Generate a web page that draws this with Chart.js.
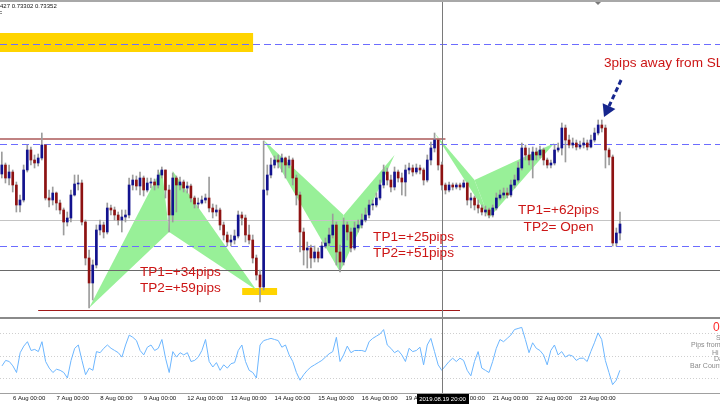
<!DOCTYPE html>
<html lang="en">
<head>
<meta charset="UTF-8">
<title>Harmonic patterns</title>
<script src="https://cdn.jsdelivr.net/npm/chart.js"></script>
<style>
  body { margin: 0; background: #fff; overflow: hidden; }
  #wrap { position: relative; width: 720px; height: 405px; background: #fff; }
  #main { position: absolute; left: 0; top: 0; }
  #sep { position: absolute; left: 0; top: 317px; width: 720px; height: 2px; background: #8a8a8a; }
  #osc { position: absolute; left: 0; top: 319px; }
</style>
</head>
<body>
<div id="wrap">
  <canvas id="main" width="720" height="317"></canvas>
  <div id="sep"></div>
  <canvas id="osc" width="720" height="86"></canvas>
</div>
<script>
// time axis: 2-hour bars, 12 per day
const dayLabels = ['6 Aug 00:00','7 Aug 00:00','8 Aug 00:00','9 Aug 00:00','12 Aug 00:00','13 Aug 00:00','14 Aug 00:00',
  '15 Aug 00:00','16 Aug 00:00','19 Aug 00:00','20 Aug 00:00','21 Aug 00:00','22 Aug 00:00','23 Aug 00:00'];
const firstDayBar = 3, barsPerDay = 12, slotCount = 198;
const crossBar = 121, crossLabel = '2019.08.19 20:00';

// prices in pips (x 0.0001)
const firstOpen = 7360;
const closes = [
  7364.5,7358,7361,7354.5,7344.5,7347,7362,7372,7367,7365.5,
  7368,7374.5,7348,7347,7350.5,7345.5,7342,7336,7338,7349.5,
  7355,7355.5,7336,7318,7305.5,7314.5,7332,7334.5,7331,7343,
  7342,7339.5,7337,7338.5,7339.5,7354.5,7357,7354,7358,7352,
  7355.5,7356,7354.5,7359.5,7362,7352,7339.5,7358,7354.5,7356,
  7353,7354,7348,7345,7345.5,7347,7348,7343,7341,7342,
  7334.5,7329.5,7326,7327,7329,7339.5,7338,7329.5,7327,7318,
  7309.5,7303.5,7352,7359.5,7364.5,7367,7366,7368,7364.5,7367,
  7358,7349.5,7331,7322,7323,7318,7321,7318,7324,7325.5,
  7329.5,7334.5,7321,7316,7334.5,7331,7323,7333,7334.5,7337,
  7339.5,7344.5,7344.5,7348,7354.5,7361,7357,7353.5,7361,7358,
  7356,7362,7363,7361,7363,7362,7357,7367,7373,7377,
  7364.5,7354.5,7352,7354.5,7353.5,7354.5,7353.5,7355.5,7347,7348,
  7344.5,7343,7341,7342,7339.5,7343,7348,7349.5,7350.5,7349.5,
  7354.5,7357,7363,7373,7369.5,7367,7371,7369.5,7372,7367,
  7364.5,7365.5,7372,7373,7383,7377,7374.5,7375.5,7373.5,7374.5,
  7375.5,7373.5,7377,7380.5,7384.5,7383,7372,7368.5,7325.5,7330.5,
  7335];
const highs = [
  7371,7365.5,7364.5,7362,7356,7349.5,7364.5,7374.5,7373.5,7369.5,
  7370,7380.5,7374.5,7352,7353.5,7351,7347,7343,7341,7352,
  7359.5,7359.5,7357,7337,7322,7317,7334.5,7337,7336,7345.5,
  7344.5,7343.5,7341,7342,7342,7358,7359.5,7359,7361,7359,
  7358,7358,7357.5,7362,7363.5,7361,7354.5,7360.5,7359,7358.5,
  7357,7356,7355,7349,7348,7349,7350,7358.5,7345,7344.5,
  7343,7336,7331,7329.5,7332,7341.5,7341,7339.5,7334.5,7329.5,
  7319.5,7312,7376.5,7364.5,7368,7369,7369.5,7370,7368.5,7369,
  7368,7359.5,7351,7333,7326,7324.5,7324,7323,7326,7328,
  7333,7340,7336,7324.5,7338,7336,7333,7336,7337,7340,
  7343,7347,7347,7350.5,7357,7364.5,7363,7359.5,7363.5,7362,
  7360.5,7364.5,7365.5,7364.5,7365,7364.5,7363,7369.5,7376,7380.5,
  7377,7366,7355.5,7356,7355.5,7355.5,7355.5,7357,7356,7350.5,
  7349,7347,7344.5,7344,7343,7344.5,7350.5,7352,7353,7353,
  7357,7359.5,7366,7375.5,7374.5,7373,7373.5,7373,7374,7373,
  7368,7367,7374.5,7375.5,7385.5,7384.5,7379.5,7378,7377,7376.5,
  7378,7377,7379.5,7383,7387,7387,7384.5,7373,7369.5,7333,
  7341];
const lows = [
  7358,7355.5,7354.5,7351,7341,7341,7346,7361,7364.5,7363,
  7364,7367,7347,7343.5,7344.5,7342,7340,7329.5,7334,7336,
  7349,7352,7334.5,7314.5,7293,7297,7313,7329.5,7328,7330,
  7339.5,7337,7334.5,7331,7336,7338,7352,7352,7349.5,7349,
  7351,7353,7352,7353,7358,7348,7331,7336,7341,7352,
  7351,7350.5,7346,7343,7343,7345,7345.5,7341,7338,7339,
  7332,7327,7324,7324,7325,7328,7334.5,7326,7325,7315.5,
  7307,7296,7302,7349.5,7358,7363,7363,7361,7358,7363,
  7354.5,7344.5,7321,7314.5,7313,7313,7316,7316,7321,7323,
  7324,7328,7314.5,7311,7314.5,7327,7321,7322,7331,7333,
  7336,7338,7342,7343.5,7347,7353,7354.5,7351,7352,7356,
  7349.5,7349,7360,7359,7360,7360,7354.5,7356,7364.5,7371,
  7362,7352,7350,7351,7352,7352.5,7352,7353,7344.5,7343,
  7342,7340.5,7339.5,7339,7338,7338.5,7342,7347,7348,7348,
  7348.5,7353,7356,7362,7367,7364.5,7358,7367,7368,7364.5,
  7363,7363,7364.5,7371,7369.5,7366,7373,7373,7372,7372.5,
  7373,7372,7373,7376,7379.5,7381,7363,7364.5,7324,7324,
  7327];

// oscillator sub-window
const oscValues = [
  41,46,45,41,35,53,59,63,55,56, 54,63,45,39,35,38,37,35,30,46,
  57,60,46,33,39,37,54,53,57,60, 57,55,53,49,60,69,67,64,55,51,
  58,60,55,57,65,48,35,54,49,53, 51,53,45,46,49,55,65,45,40,44,
  37,42,39,43,44,55,60,45,37,35, 30,60,64,65,66,65,64,58,60,51,
  45,35,28,33,37,40,42,44,46,49, 52,54,67,45,51,59,53,55,55,55,
  54,63,66,68,70,74,60,57,53,55, 51,45,57,54,55,58,42,60,66,54,
  42,37,41,45,48,45,48,46,37,32, 45,54,39,37,35,45,57,65,63,66,
  69,74,75,76,65,53,62,57,55,51, 42,55,60,51,54,49,51,50,46,48,
  48,45,54,62,71,65,46,35,24,28, 37];
const oscLevels = [30, 50, 70];

// levels and drawn objects (bar index, price in pips)
const blueLevels = [7425, 7375, 7324];
const greyLevel = 7337, crossPrice = 7312;
const brownTop = [-0.5, 122, 7377.5];
const brownBottom = [10, 126, 7292];
const yellowZones = [[-0.5, 69.1, 7430.5, 7421], [66.1, 75.7, 7303, 7299.5]];
const triangles = [
  [[24, 7293], [44, 7363], [46, 7331]],
  [[46, 7331], [47, 7361.5], [70, 7302]],
  [[72, 7377], [94, 7339.5], [93, 7311]],
  [[93, 7311], [94, 7339.5], [108, 7369.5]],
  [[119, 7380.5], [130, 7357], [134, 7338]],
  [[134, 7338], [130, 7357], [152, 7375.5]]
];
const notes = [
  ['TP1=+34pips', 38, 7311, 'left'], ['TP2=+59pips', 38, 7303, 'left'],
  ['TP1=+25pips', 102.1, 7328.5, 'left'], ['TP2=+51pips', 102.1, 7320.5, 'left'],
  ['TP1=+62pips', 153.1, 7342, 'center'], ['TP2= Open', 153.1, 7333.5, 'center'],
  ['3pips away from SL', 165.6, 7415.5, 'left']
];
const arrowFrom = [170.3, 7407], arrowTo = [165.6, 7388.5];

const labels = Array.from({length: slotCount}, (_, i) => {
  const k = (i - firstDayBar) / barsPerDay;
  return (i >= firstDayBar && Number.isInteger(k) && k < dayLabels.length) ? dayLabels[k] : '';
});
const opens = closes.map((c, i) => i === 0 ? firstOpen : closes[i - 1]);
const bodies = closes.map((c, i) => [opens[i] / 10000, c / 10000]);
const wicks = closes.map((c, i) => [Math.min(lows[i], opens[i], c) / 10000, Math.max(highs[i], opens[i], c) / 10000]);
const bodyColors = closes.map((c, i) => c >= opens[i] ? '#12128e' : '#8e1212');

function hline(ctx, x0, x1, y, color, width, dash) {
  ctx.save();
  ctx.strokeStyle = color;
  ctx.lineWidth = width;
  ctx.setLineDash(dash || []);
  const yy = width % 2 ? Math.round(y) + 0.5 : Math.round(y);
  ctx.beginPath();
  ctx.moveTo(x0, yy);
  ctx.lineTo(x1, yy);
  ctx.stroke();
  ctx.restore();
}

const mainDecor = {
  id: 'mainDecor',
  beforeDatasetsDraw(chart) {
    const {ctx, chartArea: a, scales: {x, y}} = chart;
    const px = i => x.getPixelForValue(i);
    const py = p => y.getPixelForValue(p / 10000);
    ctx.save();
    ctx.fillStyle = '#ffd400';
    yellowZones.forEach(z => {
      ctx.fillRect(px(z[0]), py(z[2]), px(z[1]) - px(z[0]), py(z[3]) - py(z[2]));
    });
    ctx.fillStyle = '#98f098';
    triangles.forEach(t => {
      ctx.beginPath();
      t.forEach((p, k) => k ? ctx.lineTo(px(p[0]), py(p[1])) : ctx.moveTo(px(p[0]), py(p[1])));
      ctx.closePath();
      ctx.fill();
    });
    ctx.restore();
    hline(ctx, a.left, a.right, py(greyLevel), '#c4c4c4', 1);
    hline(ctx, a.left, a.right, py(crossPrice), '#6a6a6a', 1);
    hline(ctx, px(brownTop[0]), px(brownTop[1]), py(brownTop[2]), '#c08282', 2);
    hline(ctx, px(brownBottom[0]), px(brownBottom[1]), py(brownBottom[2]), '#a01818', 1);
    blueLevels.forEach(l => hline(ctx, a.left, a.right, py(l), '#6c6cff', 1, [7, 4]));
    const cx = Math.round(px(crossBar)) + 0.5;
    ctx.save();
    ctx.strokeStyle = '#7a7a7a';
    ctx.lineWidth = 1;
    ctx.beginPath();
    ctx.moveTo(cx, 0);
    ctx.lineTo(cx, chart.height);
    ctx.stroke();
    ctx.restore();
  },
  afterDatasetsDraw(chart) {
    const {ctx, scales: {x, y}} = chart;
    const px = i => x.getPixelForValue(i);
    const py = p => y.getPixelForValue(p / 10000);
    ctx.save();
    ctx.font = '13.6px "Liberation Sans", Arial, sans-serif';
    ctx.fillStyle = '#cc1616';
    ctx.textBaseline = 'middle';
    notes.forEach(n => {
      ctx.textAlign = n[3];
      ctx.fillText(n[0], px(n[1]), py(n[2]));
    });
    // arrow to the high
    const x0 = px(arrowFrom[0]), y0 = py(arrowFrom[1]);
    const x1 = px(arrowTo[0]), y1 = py(arrowTo[1]);
    const ang = Math.atan2(y1 - y0, x1 - x0);
    const bx = x1 - 12 * Math.cos(ang), by = y1 - 12 * Math.sin(ang);
    ctx.strokeStyle = '#16268e';
    ctx.fillStyle = '#16268e';
    ctx.lineWidth = 3;
    ctx.setLineDash([5, 3]);
    ctx.beginPath();
    ctx.moveTo(x0, y0);
    ctx.lineTo(bx, by);
    ctx.stroke();
    ctx.setLineDash([]);
    ctx.beginPath();
    ctx.moveTo(x1, y1);
    ctx.lineTo(bx + 7 * Math.sin(ang), by - 7 * Math.cos(ang));
    ctx.lineTo(bx - 7 * Math.sin(ang), by + 7 * Math.cos(ang));
    ctx.closePath();
    ctx.fill();
    // window frame and header
    ctx.fillStyle = '#a8a8a8';
    ctx.fillRect(0, 0, chart.width, 2);
    ctx.fillStyle = '#7a7a7a';
    ctx.beginPath();
    ctx.moveTo(595, 2);
    ctx.lineTo(601, 2);
    ctx.lineTo(598, 5);
    ctx.fill();
    ctx.fillStyle = '#111';
    ctx.font = '6px "Liberation Sans", Arial, sans-serif';
    ctx.textAlign = 'left';
    ctx.fillText('427 0.73302 0.73352', 0, 6.5);
    ctx.fillText('c', -1, 12.5);
    ctx.restore();
  }
};

new Chart(document.getElementById('main'), {
  type: 'bar',
  data: {
    labels: labels,
    datasets: [
      { data: bodies, backgroundColor: bodyColors, barThickness: 2, minBarLength: 1, grouped: false, order: 0 },
      { data: wicks, backgroundColor: '#9c9c9c', barThickness: 1, grouped: false, order: 1 }
    ]
  },
  options: {
    responsive: false,
    animation: false,
    devicePixelRatio: 1,
    layout: { padding: 0 },
    plugins: { legend: { display: false }, tooltip: { enabled: false } },
    scales: {
      x: { display: false, offset: true },
      y: { display: false, min: 0.72885, max: 0.7447 }
    }
  },
  plugins: [mainDecor]
});

const oscDecor = {
  id: 'oscDecor',
  afterDraw(chart) {
    const {ctx, chartArea: a, scales: {x}} = chart;
    const cx = Math.round(x.getPixelForValue(crossBar)) + 0.5;
    ctx.save();
    ctx.strokeStyle = '#7a7a7a';
    ctx.lineWidth = 1;
    ctx.beginPath();
    ctx.moveTo(cx, 0);
    ctx.lineTo(cx, a.bottom);
    ctx.stroke();
    ctx.font = '6px "Liberation Sans", Arial, sans-serif';
    const w = ctx.measureText(crossLabel).width + 5;
    ctx.fillStyle = '#000';
    ctx.fillRect(Math.round(cx - w / 2), a.bottom + 1, Math.round(w), 10);
    ctx.fillStyle = '#fff';
    ctx.textAlign = 'center';
    ctx.textBaseline = 'middle';
    ctx.fillText(crossLabel, cx, a.bottom + 6);
    // info panel on the right edge
    ctx.textAlign = 'left';
    ctx.fillStyle = '#ff2a2a';
    ctx.font = '12px "Liberation Sans", Arial, sans-serif';
    ctx.fillText('0', 713, 9);
    ctx.fillStyle = '#8a8a8a';
    ctx.font = '7px "Liberation Sans", Arial, sans-serif';
    ctx.fillText('Spread:', 716, 19);
    ctx.fillText('Pips from Hi:', 691, 26);
    ctx.fillText('Hi to Lo:', 712, 34);
    ctx.fillText('Day:', 714, 40);
    ctx.fillText('Bar Count:', 690, 47);
    ctx.restore();
  }
};

new Chart(document.getElementById('osc'), {
  type: 'line',
  data: {
    labels: labels,
    datasets: [{ data: oscValues, borderColor: '#6cb6ff', borderWidth: 1, pointRadius: 0, tension: 0, fill: false }]
  },
  options: {
    responsive: false,
    animation: false,
    devicePixelRatio: 1,
    layout: { padding: { top: 1, left: 0, right: 0, bottom: 0 } },
    plugins: { legend: { display: false }, tooltip: { enabled: false } },
    scales: {
      x: {
        offset: true,
        grid: { display: false, drawTicks: false },
        border: { display: true, color: '#a0a0a0' },
        ticks: {
          autoSkip: false, maxRotation: 0, minRotation: 0, align: 'start', padding: 2,
          color: '#111', font: { family: '"Liberation Sans", Arial, sans-serif', size: 6 }
        },
        afterFit: s => { s.height = 12; }
      },
      y: {
        min: 16.4, max: 82.7,
        ticks: { display: false },
        grid: { color: '#cfcfcf', drawTicks: false },
        border: { display: false, dash: [1, 2] },
        afterBuildTicks: s => { s.ticks = oscLevels.map(v => ({ value: v })); },
        afterFit: s => { s.width = 0; }
      }
    }
  },
  plugins: [oscDecor]
});
</script>
</body>
</html>
